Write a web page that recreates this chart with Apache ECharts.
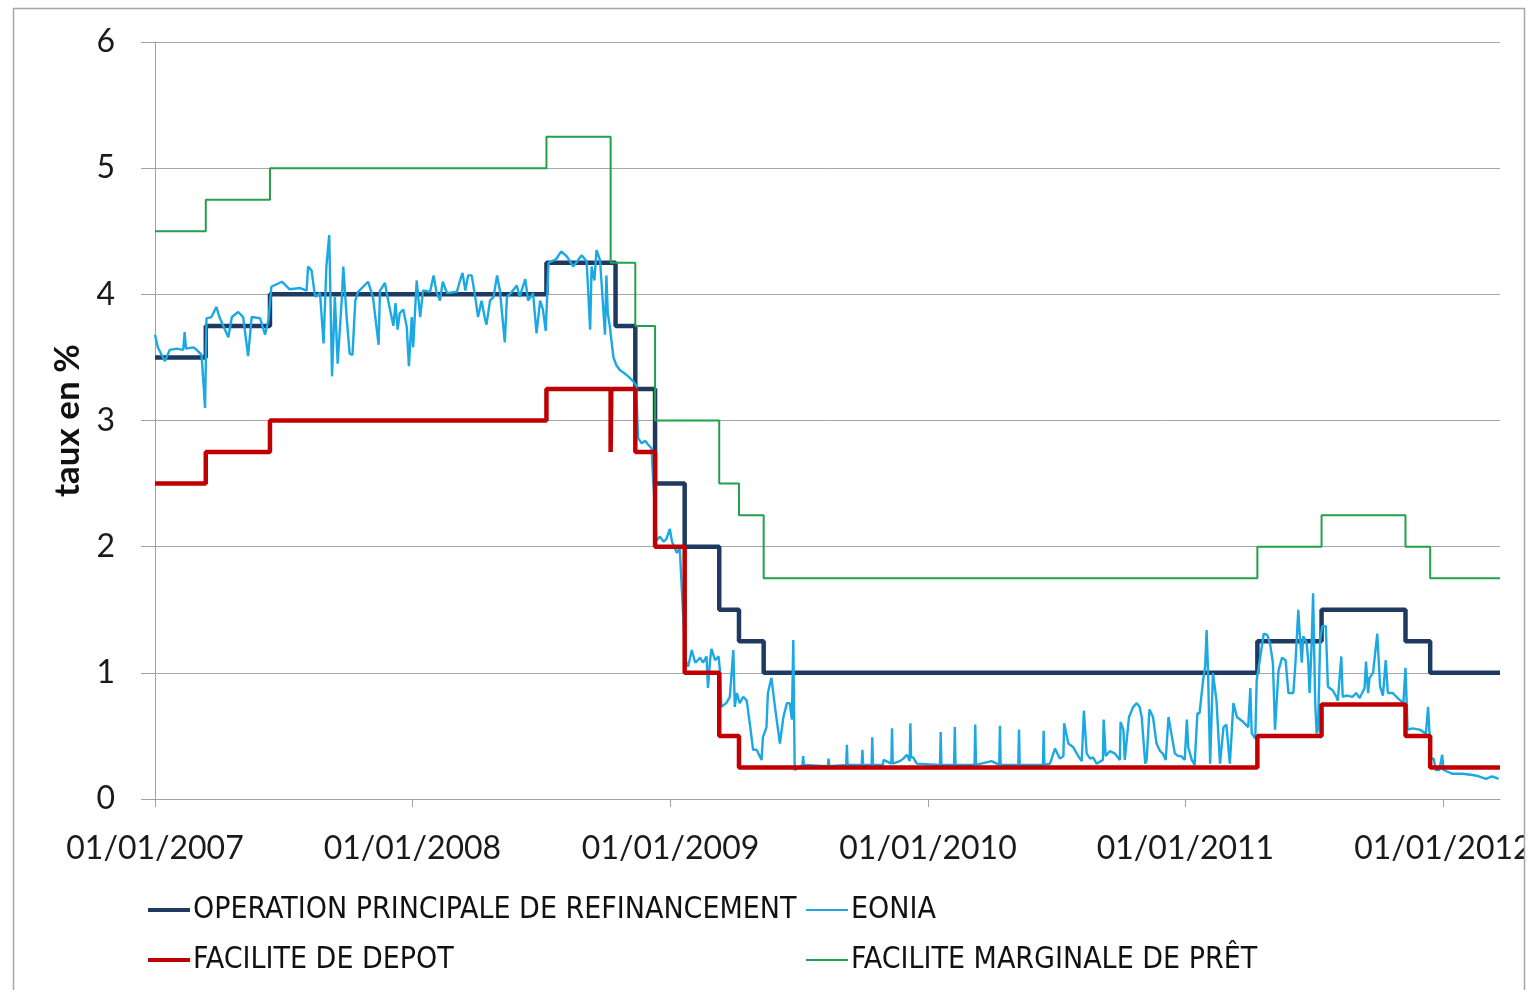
<!DOCTYPE html>
<html>
<head>
<meta charset="utf-8">
<title>Taux BCE et EONIA</title>
<script src="https://cdn.jsdelivr.net/npm/echarts@6/dist/echarts.min.js"></script>
<style>
html,body{margin:0;padding:0;background:#fff}
#Chart{width:1537px;height:990px}
</style>
</head>
<body>
<div id="Chart"></div>
<script>
// taux directeurs BCE (dates de changement)
var mroDates=['2007-01-01','2007-03-14','2007-06-13','2008-07-09','2008-10-15','2008-11-12','2008-12-10','2009-01-21','2009-03-11','2009-04-08','2009-05-13','2011-04-13','2011-07-13','2011-11-09','2011-12-14','2012-03-22']
var mroValues=[3.5,3.75,4,4.25,3.75,3.25,2.5,2,1.5,1.25,1,1.25,1.5,1.25,1,1]

var depotDates=['2007-01-01','2007-03-14','2007-06-13','2008-07-09','2008-10-08','2008-10-09','2008-11-12','2008-12-10','2009-01-21','2009-03-11','2009-04-08','2011-04-13','2011-07-13','2011-11-09','2011-12-14','2012-03-22']
var depotValues=[2.5,2.75,3,3.25,2.75,3.25,2.75,2,1,0.5,0.25,0.5,0.75,0.5,0.25,0.25]

var pretDates=['2007-01-01','2007-03-14','2007-06-13','2008-07-09','2008-10-08','2008-11-12','2008-12-10','2009-03-11','2009-04-08','2009-05-13','2011-04-13','2011-07-13','2011-11-09','2011-12-14','2012-03-22']
var pretValues=[4.5,4.75,5,5.25,4.25,3.75,3,2.5,2.25,1.75,2,2.25,2,1.75,1.75]

// EONIA
var eoniaPoints=[
['2007-01-01',3.68],['2007-01-05',3.58],['2007-01-15',3.47],['2007-01-22',3.56],['2007-02-01',3.57],['2007-02-10',3.56],['2007-02-12',3.70],['2007-02-14',3.57],
['2007-02-24',3.58],['2007-03-01',3.56],['2007-03-08',3.52],['2007-03-13',3.10],['2007-03-15',3.81],['2007-03-22',3.82],['2007-03-29',3.90],['2007-04-03',3.81],
['2007-04-15',3.66],['2007-04-20',3.82],['2007-04-29',3.86],['2007-05-06',3.82],['2007-05-13',3.51],['2007-05-18',3.82],['2007-05-30',3.81],['2007-06-06',3.68],
['2007-06-11',3.80],['2007-06-15',4.06],['2007-06-30',4.10],['2007-07-11',4.04],['2007-07-26',4.05],['2007-08-04',4.03],['2007-08-06',4.22],['2007-08-11',4.19],
['2007-08-16',3.98],['2007-08-23',4.01],['2007-08-28',3.61],['2007-09-01',4.22],['2007-09-05',4.47],['2007-09-09',3.35],['2007-09-13',3.98],['2007-09-17',3.45],
['2007-09-23',3.98],['2007-09-25',4.22],['2007-09-30',3.80],['2007-10-04',3.53],['2007-10-08',3.52],['2007-10-12',3.95],['2007-10-16',4.02],['2007-10-30',4.10],
['2007-11-06',3.98],['2007-11-14',3.60],['2007-11-16',4.03],['2007-11-23',4.09],['2007-11-28',3.94],['2007-12-05',3.75],['2007-12-08',3.93],['2007-12-11',3.72],
['2007-12-14',3.85],['2007-12-19',3.88],['2007-12-24',3.74],['2007-12-27',3.43],['2007-12-31',3.82],
['2008-01-02',3.58],['2008-01-07',4.11],['2008-01-12',3.82],['2008-01-16',4.03],['2008-01-26',4.02],['2008-01-31',4.15],['2008-02-04',4.02],['2008-02-09',3.95],
['2008-02-13',4.10],['2008-02-19',4.01],['2008-03-04',4.02],['2008-03-08',4.10],['2008-03-12',4.17],['2008-03-16',4.03],['2008-03-20',4.15],['2008-03-25',4.15],
['2008-03-30',3.98],['2008-04-03',3.82],['2008-04-08',3.95],['2008-04-13',3.80],['2008-04-15',3.76],['2008-04-20',3.95],['2008-04-25',3.98],['2008-04-30',4.15],
['2008-05-04',4.03],['2008-05-11',3.62],['2008-05-14',3.98],['2008-05-21',4.02],['2008-05-28',4.07],['2008-06-01',3.98],['2008-06-09',4.12],['2008-06-13',3.95],
['2008-06-20',4.01],['2008-06-25',3.69],['2008-06-30',3.95],['2008-07-04',3.88],['2008-07-08',3.71],['2008-07-12',4.25],['2008-07-23',4.28],['2008-07-30',4.34],
['2008-08-07',4.30],['2008-08-16',4.22],['2008-08-28',4.31],['2008-09-04',4.26],['2008-09-09',3.72],['2008-09-11',4.22],['2008-09-15',4.11],['2008-09-18',4.35],
['2008-09-23',4.27],['2008-09-28',3.85],['2008-09-30',3.68],['2008-10-02',4.15],['2008-10-04',3.85],['2008-10-07',3.74],['2008-10-09',3.64],['2008-10-12',3.50],
['2008-10-16',3.44],['2008-10-21',3.40],['2008-10-26',3.38],['2008-11-02',3.35],['2008-11-09',3.31],['2008-11-13',3.28],['2008-11-16',2.86],['2008-11-21',2.82],
['2008-11-26',2.84],['2008-11-30',2.81],['2008-12-05',2.78],['2008-12-12',2.05],['2008-12-17',2.08],['2008-12-22',2.04],['2008-12-26',2.06],['2008-12-31',2.14],
['2009-01-03',2.04],['2009-01-10',1.95],['2009-01-14',1.99],['2009-01-22',1.10],['2009-01-26',1.05],['2009-01-31',1.18],['2009-02-05',1.08],['2009-02-12',1.12],
['2009-02-16',1.08],['2009-02-21',1.13],['2009-02-23',0.88],['2009-02-26',1.10],['2009-02-28',1.19],['2009-03-05',1.10],['2009-03-10',1.13],['2009-03-12',1.02],
['2009-03-14',0.73],['2009-03-21',0.76],['2009-03-26',0.81],['2009-03-31',1.18],['2009-04-02',0.73],['2009-04-05',0.84],['2009-04-09',0.76],['2009-04-14',0.81],
['2009-04-19',0.78],['2009-04-24',0.57],['2009-04-28',0.39],['2009-05-03',0.39],['2009-05-10',0.31],['2009-05-12',0.49],['2009-05-17',0.57],['2009-05-19',0.84],
['2009-05-24',0.96],['2009-05-29',0.73],['2009-06-05',0.44],['2009-06-10',0.65],['2009-06-15',0.76],['2009-06-19',0.76],['2009-06-22',0.63],['2009-06-24',1.26],
['2009-06-26',0.23],['2009-07-07',0.27],['2009-07-08',0.34],['2009-07-09',0.27],['2009-08-12',0.26],['2009-08-13',0.32],['2009-08-14',0.26],['2009-09-07',0.27],
['2009-09-08',0.43],['2009-09-09',0.27],['2009-09-29',0.27],['2009-09-30',0.39],['2009-10-01',0.27],['2009-10-13',0.27],['2009-10-14',0.49],['2009-10-15',0.27],
['2009-10-29',0.27],['2009-10-30',0.31],['2009-11-10',0.28],['2009-11-11',0.56],['2009-11-12',0.28],['2009-11-22',0.30],['2009-11-27',0.32],['2009-12-02',0.35],
['2009-12-04',0.33],['2009-12-06',0.30],['2009-12-07',0.60],['2009-12-08',0.33],['2009-12-11',0.33],['2009-12-16',0.28],
['2010-01-18',0.27],['2010-01-19',0.53],['2010-01-20',0.27],['2010-02-07',0.27],['2010-02-08',0.57],['2010-02-09',0.27],['2010-03-08',0.27],['2010-03-09',0.59],
['2010-03-10',0.27],['2010-04-01',0.30],['2010-04-12',0.27],['2010-04-13',0.58],['2010-04-14',0.27],['2010-05-09',0.27],['2010-05-10',0.55],['2010-05-11',0.27],
['2010-06-13',0.27],['2010-06-14',0.54],['2010-06-15',0.27],['2010-06-23',0.28],['2010-06-30',0.40],['2010-07-07',0.32],['2010-07-12',0.34],['2010-07-13',0.60],
['2010-07-19',0.44],['2010-07-26',0.41],['2010-08-02',0.34],['2010-08-07',0.30],['2010-08-09',0.31],['2010-08-10',0.70],['2010-08-14',0.36],['2010-08-19',0.32],
['2010-08-23',0.33],['2010-08-28',0.28],['2010-09-06',0.31],['2010-09-07',0.63],['2010-09-10',0.34],['2010-09-16',0.38],['2010-09-23',0.36],['2010-09-30',0.31],
['2010-10-01',0.61],['2010-10-05',0.55],['2010-10-07',0.31],['2010-10-13',0.65],['2010-10-19',0.73],['2010-10-24',0.76],['2010-10-28',0.73],['2010-10-31',0.65],
['2010-11-05',0.28],['2010-11-07',0.31],['2010-11-11',0.71],['2010-11-16',0.65],['2010-11-21',0.44],['2010-11-26',0.38],['2010-11-30',0.36],['2010-12-04',0.31],
['2010-12-08',0.65],['2010-12-12',0.52],['2010-12-17',0.36],['2010-12-22',0.34],['2010-12-26',0.34],['2010-12-31',0.31],
['2011-01-03',0.63],['2011-01-05',0.41],['2011-01-10',0.31],['2011-01-14',0.27],['2011-01-18',0.68],['2011-01-21',0.68],['2011-01-26',0.94],['2011-01-29',1.05],
['2011-01-31',1.34],['2011-02-02',1.02],['2011-02-05',0.28],['2011-02-09',1.00],['2011-02-14',0.78],['2011-02-19',0.28],['2011-02-24',0.57],['2011-02-28',0.59],
['2011-03-05',0.28],['2011-03-10',0.76],['2011-03-15',0.65],['2011-03-24',0.61],['2011-03-31',0.57],['2011-04-03',0.88],['2011-04-05',0.52],['2011-04-10',0.48],
['2011-04-12',0.94],['2011-04-15',1.05],['2011-04-22',1.31],['2011-04-27',1.30],['2011-05-01',1.23],['2011-05-05',1.08],['2011-05-08',0.55],['2011-05-13',1.02],
['2011-05-18',1.12],['2011-05-23',1.10],['2011-05-27',0.84],['2011-06-03',0.84],['2011-06-06',1.08],['2011-06-10',1.50],['2011-06-12',1.31],['2011-06-15',1.08],
['2011-06-17',1.29],['2011-06-19',1.27],['2011-06-22',1.23],['2011-06-24',1.10],['2011-06-26',0.84],['2011-06-29',1.23],['2011-07-01',1.63],['2011-07-04',0.76],
['2011-07-06',0.52],['2011-07-08',0.55],['2011-07-11',1.26],['2011-07-14',1.37],['2011-07-19',1.37],['2011-07-22',0.89],['2011-07-29',0.86],['2011-08-03',0.81],
['2011-08-05',0.78],['2011-08-10',1.13],['2011-08-12',0.81],['2011-08-17',0.82],['2011-08-26',0.81],['2011-08-31',0.84],['2011-09-05',0.80],['2011-09-12',0.88],
['2011-09-14',1.09],['2011-09-17',0.84],['2011-09-19',0.96],['2011-09-24',1.00],['2011-09-30',1.31],['2011-10-04',0.89],['2011-10-08',0.82],['2011-10-12',1.10],
['2011-10-15',0.84],['2011-10-22',0.84],['2011-10-29',0.80],['2011-11-06',0.76],['2011-11-09',1.04],['2011-11-12',0.55],['2011-11-19',0.56],['2011-11-29',0.55],
['2011-12-08',0.52],['2011-12-11',0.73],['2011-12-15',0.32],['2011-12-19',0.32],['2011-12-22',0.23],['2011-12-27',0.23],['2011-12-31',0.35],
['2012-01-02',0.23],['2012-01-06',0.22],['2012-01-15',0.20],['2012-01-29',0.20],['2012-02-12',0.19],['2012-02-21',0.18],['2012-03-02',0.16],['2012-03-11',0.18],
['2012-03-20',0.16]
]

var seriesNames=['OPERATION PRINCIPALE DE REFINANCEMENT','EONIA','FACILITE DE DEPOT','FACILITE MARGINALE DE PRÊT']
var seriesColors=['#1f3a60','#1ca8e3','#c00000','#22a04b']
var yTicks=[0,1,2,3,4,5,6]

function $each(arr,fn){ for(var i=0;i<arr.length;i++) fn(i,arr[i]) }
function zip(dates,values){
    var out=[]
    $each(dates,function(i,d){ out.push([d,values[i]]) })
    return out
}

var legendFont='"DejaVu Sans Condensed", Roboto, sans-serif'

function legendBox(name,left,top,h){
    return {
        data:[name],
        left:left,top:top,
        padding:0,
        icon:'rect',
        itemWidth:42,itemHeight:h,
        itemGap:0,
        textStyle:{fontFamily:legendFont,fontSize:30,color:'#111',padding:[0,0,0,-2]},
        selectedMode:false
    }
}

function drawChar(){
    var myChart=echarts.init(document.getElementById('Chart'),null,{renderer:'canvas'})
    var lbl='Lato, "Open Sans", sans-serif'
    var option={
        animation:false,
        color:seriesColors,
        grid:{left:155,right:37,top:42,bottom:191},
        legend:[
            legendBox(seriesNames[0],148,895,4),
            legendBox(seriesNames[1],806,895,2),
            legendBox(seriesNames[2],148,945,4),
            legendBox(seriesNames[3],806,945,2)
        ],
        xAxis:{
            type:'time',
            min:'2007-01-01',max:'2012-03-22',
            minInterval:365*86400000,maxInterval:366*86400000,
            axisLine:{lineStyle:{color:'#a0a0a0',width:1}},
            axisTick:{show:true,length:8,lineStyle:{color:'#a0a0a0'}},
            splitLine:{show:false},
            axisLabel:{formatter:'{dd}/{MM}/{yyyy}',fontFamily:lbl,fontSize:32,color:'#1a1a1a',margin:34,hideOverlap:false}
        },
        yAxis:{
            type:'value',
            min:yTicks[0],max:yTicks[yTicks.length-1],interval:1,
            name:'taux en %',nameLocation:'middle',nameGap:70,nameRotate:90,
            nameTextStyle:{fontFamily:'Lato, sans-serif',fontWeight:'bold',fontSize:35,color:'#111'},
            axisLine:{show:true,lineStyle:{color:'#a0a0a0',width:1}},
            axisTick:{show:true,length:14,lineStyle:{color:'#a0a0a0'}},
            splitLine:{lineStyle:{color:'#a6a6a6',width:1}},
            axisLabel:{fontFamily:lbl,fontSize:32,color:'#1a1a1a',margin:40}
        },
        series:[
            {name:seriesNames[0],type:'line',step:'end',showSymbol:false,data:zip(mroDates,mroValues),lineStyle:{width:4.5,color:seriesColors[0]}},
            {name:seriesNames[1],type:'line',showSymbol:false,data:eoniaPoints,lineStyle:{width:2.4,color:seriesColors[1]}},
            {name:seriesNames[2],type:'line',step:'end',showSymbol:false,data:zip(depotDates,depotValues),lineStyle:{width:4.5,color:seriesColors[2]}},
            {name:seriesNames[3],type:'line',step:'end',showSymbol:false,data:zip(pretDates,pretValues),lineStyle:{width:2,color:seriesColors[3]}}
        ],
        graphic:[
            {type:'rect',z:100,shape:{x:1525,y:0,width:20,height:990},style:{fill:'#fff'}},
            {type:'rect',z:101,shape:{x:13.5,y:8.5,width:1511,height:990},style:{fill:null,stroke:'#a6a6a6',lineWidth:1.5}}
        ]
    }
    myChart.setOption(option)
}

drawChar()
</script>
</body>
</html>
